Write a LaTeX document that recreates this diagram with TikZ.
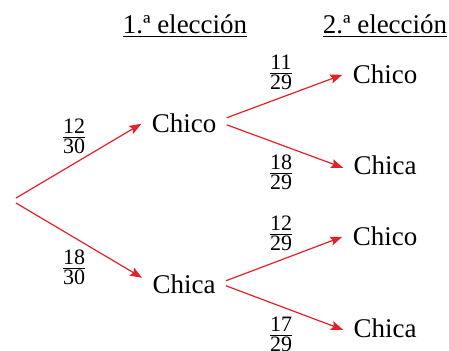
\documentclass[tikz,border=0pt]{standalone}
\usepackage{fontspec}
\setmainfont{Liberation Serif}
\usetikzlibrary{arrows.meta}
\definecolor{arrowred}{RGB}{228,32,40}
\newcommand\fr[2]{$\textstyle\frac{\mbox{\raisebox{0.6pt}{#1}}}{\mbox{\raisebox{-1.1pt}{#2}}}$}
\begin{document}
\begin{tikzpicture}[x=0.5pt,y=-0.5pt,
  lbl/.style={font=\fontsize{13.5}{16}\selectfont, inner xsep=5pt, inner ysep=0pt, anchor=base},
  hdr/.style={font=\fontsize{13.5}{16}\selectfont, inner sep=0pt, anchor=base},
  frac/.style={font=\fontsize{11}{13}\selectfont, inner sep=0pt},
  branch/.style={draw=arrowred, line width=0.6pt, -{Stealth[length=6pt,width=4.5pt,inset=1pt]}}]
\clip (0,0) rectangle (449,350);
\useasboundingbox (0,0) rectangle (449,350);
% headers
\node[hdr] (h1) at (185,33) {\underline{1.ª elección}};
\node[hdr] (h2) at (385,33) {\underline{2.ª elección}};
% nodes
\coordinate (root) at (16,200);
\node[lbl] (c1) at (184,132) {Chico};
\node[lbl] (a1) at (184,293) {Chica};
\node[lbl] (cc) at (385,83) {Chico};
\node[lbl] (ca) at (385,174) {Chica};
\node[lbl] (ac) at (385,245) {Chico};
\node[lbl] (aa) at (385,337) {Chica};
% branches
\draw[branch] ([yshift=1pt]root) -- ([yshift=-0.5pt]c1.west);
\draw[branch] ([yshift=-1.5pt]root) -- ([yshift=3pt]a1.west);
\draw[branch] ([yshift=2.5pt]c1.east) -- ([yshift=-0.5pt]cc.west);
\draw[branch] ([yshift=-1pt]c1.east) -- ([yshift=-1.5pt]ca.west);
\draw[branch] ([yshift=1.5pt]a1.east) -- ([yshift=-0.5pt]ac.west);
\draw[branch] ([yshift=-1pt]a1.east) -- ([yshift=-1pt]aa.west);
% probabilities
\node[frac] (p1) at (74,136) {\fr{12}{30}};
\node[frac] (p2) at (74,267) {\fr{18}{30}};
\node[frac] (p3) at (281,72) {\fr{11}{29}};
\node[frac] (p4) at (281,172) {\fr{18}{29}};
\node[frac] (p5) at (281,233) {\fr{12}{29}};
\node[frac] (p6) at (281,334) {\fr{17}{29}};
\end{tikzpicture}
\end{document}
